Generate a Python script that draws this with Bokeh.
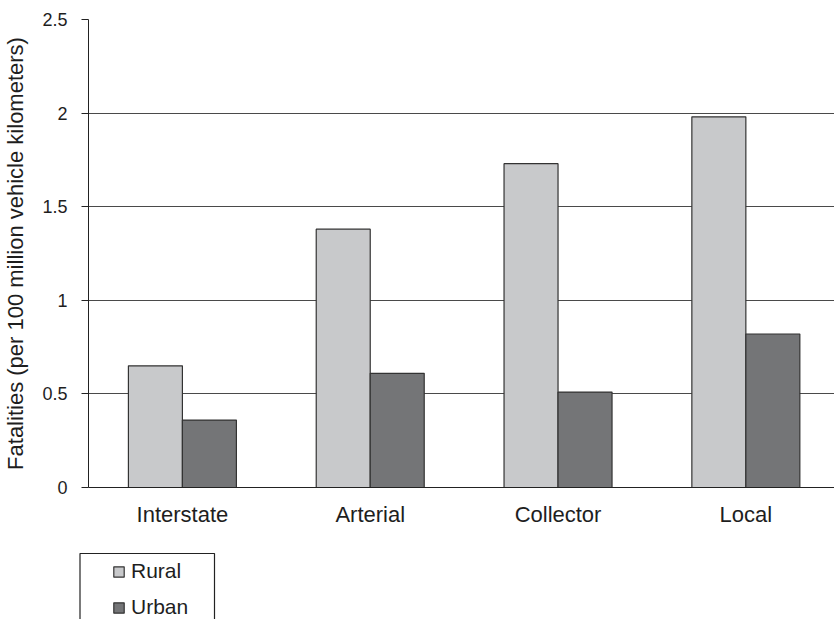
from bokeh.plotting import figure
from bokeh.layouts import column, row, Spacer
from bokeh.models import (Range1d, FixedTicker, NumeralTickFormatter, Legend,
                          LegendItem, BoxAnnotation)
from bokeh.embed import file_html
from bokeh.resources import INLINE

# Road fatality rates by functional class
cats = ["Interstate", "Arterial", "Collector", "Local"]
rural = [0.65, 1.38, 1.73, 1.98]
urban = [0.36, 0.61, 0.51, 0.82]
series_names = ["Rural", "Urban"]
y_ticks = [0, 0.5, 1, 1.5, 2, 2.5]

FONT = "Liberation Sans"
TEXT = "#1e1e1e"
RURAL_COLOR = "#c8c9cb"
URBAN_COLOR = "#747577"
EDGE = "#333333"
AXIS = "#222222"
BAR_W = 0.2875
series_colors = [RURAL_COLOR, URBAN_COLOR]
series_values = [rural, urban]

pos = list(range(len(cats)))

# ---- main chart -------------------------------------------------------
p = figure(width=834, height=533, output_backend="svg", toolbar_location=None,
           x_range=Range1d(-0.5, len(cats) - 0.528), y_range=Range1d(0, 2.5),
           min_border_left=88, min_border_right=0, min_border_top=19,
           min_border_bottom=46)
p.outline_line_color = None
p.background_fill_color = "white"
p.border_fill_color = "white"

p.vbar(x=[i - BAR_W / 2 for i in pos], top=rural, bottom=0, width=BAR_W,
       fill_color=RURAL_COLOR, line_color=EDGE, line_width=1.2)
p.vbar(x=[i + BAR_W / 2 for i in pos], top=urban, bottom=0, width=BAR_W,
       fill_color=URBAN_COLOR, line_color=EDGE, line_width=1.2)

ya = p.yaxis[0]
ya.ticker = FixedTicker(ticks=y_ticks)
ya.formatter = NumeralTickFormatter(format="0.[0]")
ya.major_label_text_font = FONT
ya.major_label_text_font_size = "18px"
ya.major_label_text_color = TEXT
ya.major_label_standoff = 14
ya.major_tick_out = 7
ya.major_tick_in = 0
ya.minor_tick_out = 0
ya.minor_tick_in = 0
ya.major_tick_line_color = AXIS
ya.axis_line_color = AXIS
ya.axis_label = "Fatalities (per 100 million vehicle kilometers)"
ya.axis_label_text_font = FONT
ya.axis_label_text_font_size = "22px"
ya.axis_label_text_font_style = "normal"
ya.axis_label_text_color = TEXT
ya.axis_label_standoff = 11

xa = p.xaxis[0]
xa.ticker = FixedTicker(ticks=pos)
xa.major_label_overrides = {i: c for i, c in zip(pos, cats)}
xa.major_label_text_font = FONT
xa.major_label_text_font_size = "22px"
xa.major_label_text_color = TEXT
xa.major_label_standoff = 14
xa.major_tick_out = 0
xa.major_tick_in = 0
xa.minor_tick_out = 0
xa.minor_tick_in = 0
xa.axis_line_color = AXIS

p.xgrid.visible = False
p.ygrid.grid_line_color = "#4a4a4a"
p.ygrid.grid_line_width = 1.2

# ---- legend strip under the chart --------------------------------------
# the strip starts LEG_X pixels from the page's left edge; its x/y data
# units are pixels within the strip (y measured up from its bottom)
LEG_X = 78
LEG_H = 86
LEG_W = 834 - LEG_X
leg = figure(width=LEG_W, height=LEG_H, output_backend="svg", toolbar_location=None,
             x_range=Range1d(0, LEG_W), y_range=Range1d(0, LEG_H),
             x_axis_location=None, y_axis_location=None,
             min_border_left=0, min_border_right=0, min_border_top=0,
             min_border_bottom=0)
leg.outline_line_color = None
leg.xgrid.visible = False
leg.ygrid.visible = False
leg.background_fill_color = "white"
leg.border_fill_color = "white"

# legend frame, open at the bottom edge of the page
leg.add_layout(BoxAnnotation(left=1.5, right=136, top=LEG_H - 20, bottom=-30,
                             fill_alpha=0, line_color=AXIS, line_alpha=1,
                             line_width=1.2, level="overlay"))

# swatch renderers carry the series styling; their bars are drawn below
# the strip's visible range, so only the legend swatches show
swatches = [leg.vbar(x=pos, top=[-v for v in vals], bottom=-LEG_H, width=BAR_W,
                     fill_color=c, line_color=EDGE, line_width=1.2)
            for c, vals in zip(series_colors, series_values)]
entries = Legend(items=[LegendItem(label=n, renderers=[r])
                        for n, r in zip(series_names, swatches)],
                 location=(34, 0), padding=0, margin=0, spacing=12,
                 glyph_width=13, glyph_height=13, label_height=24,
                 label_standoff=6, border_line_alpha=0,
                 background_fill_alpha=0,
                 label_text_font=FONT, label_text_font_size="21px",
                 label_text_color=TEXT)
leg.add_layout(entries)

layout = column(p, row(Spacer(width=LEG_X, height=LEG_H), leg, spacing=0),
                spacing=0)
open("out.html", "w").write(file_html(layout, INLINE))
